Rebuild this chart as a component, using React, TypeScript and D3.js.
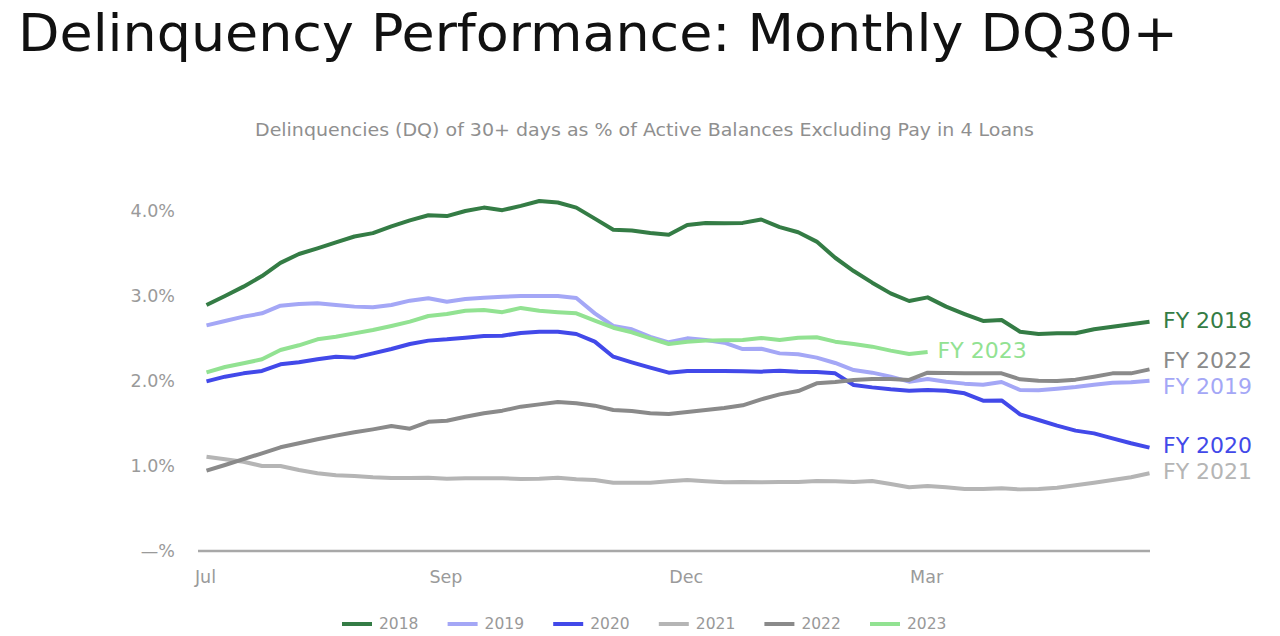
import React from "react";
import * as d3 from "d3";

const xTickLabels = ["Jul", "Sep", "Dec", "Mar"];
const xTickIndex = [0, 13, 26, 39];
const yTicks = [0, 1, 2, 3, 4];
const yTickLabels = ["\u2014%", "1.0%", "2.0%", "3.0%", "4.0%"];

const fy2018 = [2.894, 3.0, 3.11, 3.235, 3.39, 3.494, 3.56, 3.63, 3.7, 3.74, 3.82, 3.89, 3.95, 3.94, 4.0, 4.04, 4.01, 4.06,
  4.118, 4.1, 4.04, 3.91, 3.78, 3.77, 3.74, 3.72, 3.835, 3.86, 3.855, 3.86, 3.9, 3.81, 3.75, 3.64, 3.45,
  3.294, 3.157, 3.031, 2.941, 2.984, 2.875, 2.788, 2.706, 2.718, 2.58, 2.553, 2.561, 2.561, 2.608, 2.639, 2.667, 2.698];
const fy2019 = [2.655, 2.706, 2.757, 2.796, 2.886, 2.906, 2.914, 2.894, 2.875, 2.867, 2.894, 2.945, 2.973, 2.933, 2.965, 2.98, 2.99, 3.0,
  3.0, 3.0, 2.976, 2.796, 2.647, 2.608, 2.52, 2.455, 2.502, 2.482, 2.451, 2.376, 2.38, 2.325, 2.314, 2.275, 2.212,
  2.129, 2.098, 2.051, 1.992, 2.024, 1.992, 1.969, 1.957, 1.988, 1.894, 1.89, 1.91, 1.93, 1.957, 1.98, 1.984, 2.004];
const fy2020 = [1.996, 2.051, 2.09, 2.118, 2.196, 2.22, 2.255, 2.286, 2.275, 2.325, 2.376, 2.435, 2.475, 2.49, 2.51, 2.53, 2.533, 2.565,
  2.58, 2.58, 2.553, 2.463, 2.286, 2.22, 2.157, 2.098, 2.118, 2.118, 2.118, 2.114, 2.11, 2.122, 2.11, 2.106, 2.09,
  1.953, 1.925, 1.902, 1.886, 1.894, 1.886, 1.855, 1.769, 1.772, 1.608, 1.541, 1.475, 1.416, 1.384, 1.325, 1.267, 1.216];
const fy2021 = [1.11, 1.08, 1.05, 1.0, 1.0, 0.953, 0.914, 0.89, 0.882, 0.867, 0.859, 0.86, 0.863, 0.85, 0.855, 0.855, 0.855, 0.847,
  0.851, 0.863, 0.843, 0.835, 0.804, 0.804, 0.804, 0.82, 0.835, 0.82, 0.808, 0.812, 0.808, 0.812, 0.812, 0.824, 0.822,
  0.812, 0.824, 0.788, 0.749, 0.765, 0.749, 0.729, 0.729, 0.737, 0.725, 0.729, 0.745, 0.773, 0.804, 0.835, 0.867, 0.914];
const fy2022 = [0.945, 1.012, 1.082, 1.149, 1.22, 1.267, 1.314, 1.357, 1.396, 1.431, 1.47, 1.439, 1.52, 1.533, 1.58, 1.62, 1.651, 1.698,
  1.725, 1.753, 1.737, 1.71, 1.659, 1.647, 1.62, 1.612, 1.635, 1.659, 1.682, 1.714, 1.784, 1.843, 1.882, 1.973, 1.988,
  2.012, 2.024, 2.024, 2.012, 2.098, 2.094, 2.09, 2.09, 2.09, 2.02, 2.004, 2.0, 2.016, 2.051, 2.09, 2.09, 2.137];
const fy2023 = [2.102, 2.165, 2.208, 2.255, 2.365, 2.42, 2.49, 2.52, 2.56, 2.6, 2.647, 2.698, 2.765, 2.788, 2.827, 2.835, 2.81, 2.86,
  2.827, 2.81, 2.796, 2.71, 2.627, 2.573, 2.502, 2.435, 2.463, 2.475, 2.478, 2.482, 2.506, 2.482, 2.51, 2.514, 2.463,
  2.435, 2.404, 2.357, 2.318, 2.341];

const seriesNames = ["2018", "2019", "2020", "2021", "2022", "2023"];
const seriesValues = [fy2018, fy2019, fy2020, fy2021, fy2022, fy2023];
const seriesColors = ["#347c45", "#a4a7f6", "#4249e9", "#b5b5b5", "#8a8a8a", "#92e292"];

const FONT = "'DejaVu Sans', sans-serif";

export default function App() {
  const width = 1280;
  const height = 636;
  const x = d3.scaleLinear().domain([0, 51]).range([206.5, 1149.5]);
  const y = d3.scaleLinear().domain([0, 4]).range([551, 211]);
  const line = d3
    .line<number>()
    .x((_, i) => x(i))
    .y((d) => y(d));

  const endLabels = seriesValues.map((vals, k) => ({
    k,
    full: vals.length === 52,
    target: y(vals[vals.length - 1]),
    pos: y(vals[vals.length - 1]),
  }));
  const stacked = endLabels.filter((l) => l.full).sort((a, b) => a.target - b.target);
  const minGap = 26;
  for (let iter = 0; iter < 50; iter++) {
    for (let i = 1; i < stacked.length; i++) {
      const a = stacked[i - 1];
      const b = stacked[i];
      const gap = b.pos - a.pos;
      if (gap < minGap) {
        const push = (minGap - gap) / 2;
        a.pos -= push;
        b.pos += push;
      }
    }
  }

  return (
    <svg
      width={width}
      height={height}
      style={{ position: "absolute", left: 0, top: 0, background: "#fff" }}
      fontFamily={FONT}
    >
      <text x={18} y={51} fontSize={52} fill="#111" textLength={1160} lengthAdjust="spacingAndGlyphs">
        Delinquency Performance: Monthly DQ30+
      </text>
      <text x={255} y={136} fontSize={17} fill="#8f8f8f" textLength={779} lengthAdjust="spacingAndGlyphs">
        Delinquencies (DQ) of 30+ days as % of Active Balances Excluding Pay in 4 Loans
      </text>

      {yTicks.map((t, i) => (
        <text key={t} x={175} y={y(t)} dy="0.35em" fontSize={17.5} fill="#9a9a9a" textAnchor="end">
          {yTickLabels[i]}
        </text>
      ))}

      <line x1={198} x2={1150} y1={y(0)} y2={y(0)} stroke="#a8a8a8" strokeWidth={2.5} />

      {xTickIndex.map((t, i) => (
        <text key={t} x={x(t) - 1} y={577} dy="0.35em" fontSize={17.5} fill="#9a9a9a" textAnchor="middle">
          {xTickLabels[i]}
        </text>
      ))}

      {seriesValues.map((vals, k) => (
        <path
          key={seriesNames[k]}
          d={line(vals) || ""}
          fill="none"
          stroke={seriesColors[k]}
          strokeWidth={4}
          strokeLinejoin="round"
          strokeLinecap="butt"
        />
      ))}

      {endLabels.map((l) => {
        const vals = seriesValues[l.k];
        const lx = l.full ? 1163 : x(vals.length - 1) + 10;
        return (
          <text key={"lab" + l.k} x={lx} y={l.pos - 2} dy="0.36em" fontSize={22} fill={seriesColors[l.k]}>
            {"FY " + seriesNames[l.k]}
          </text>
        );
      })}

      {seriesNames.map((name, k) => {
        const lx = 342 + k * 105.6;
        return (
          <g key={"leg" + name}>
            <line x1={lx} x2={lx + 30} y1={624} y2={624} stroke={seriesColors[k]} strokeWidth={4} />
            <text x={lx + 37} y={624} dy="0.35em" fontSize={15.5} fill="#999">
              {name}
            </text>
          </g>
        );
      })}
    </svg>
  );
}
